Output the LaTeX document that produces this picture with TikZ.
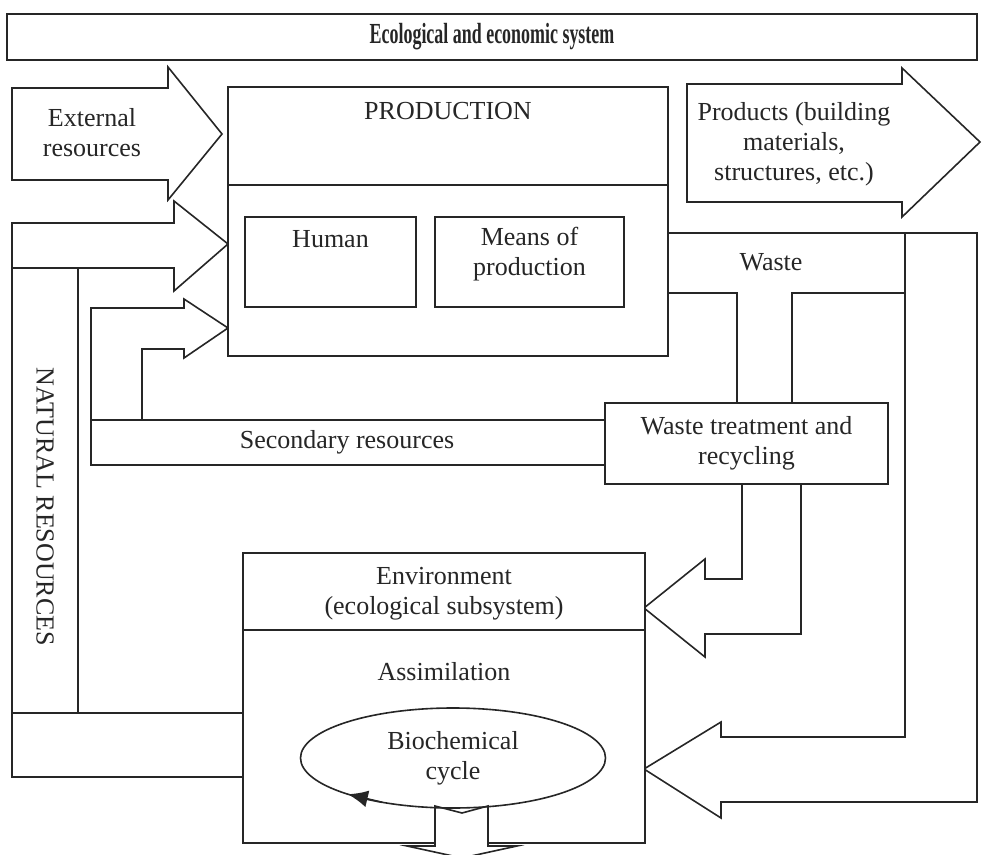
\documentclass[tikz,border=0pt]{standalone}
\usepackage{fontspec}
\setmainfont{Liberation Serif}
\usepackage{graphicx}
\usetikzlibrary{shapes.geometric,arrows.meta}
\begin{document}
\begin{tikzpicture}[x=0.5pt,y=-0.5pt,inner sep=0pt,outer sep=0pt,thick,color=black!85,
	font=\fontsize{13}{15}\selectfont,
	sysbox/.style={draw,rectangle,fill=white},
	bigarrow/.style={draw,fill=white}]
	\useasboundingbox (0,0) rectangle (985,855);
	\draw (492,37) node[sysbox,minimum width=485pt,minimum height=23pt] (eco) {\scalebox{0.69}[1.12]{\bfseries Ecological and economic system}};
	% arrows on the left
	\draw[bigarrow] (12,88) -- (168,88) -- (168,67) -- (222,134) -- (168,200) -- (168,180) -- (12,180) -- cycle;
	\draw (92,133) node[align=center] (ext) {External\\resources};
	\draw[bigarrow] (243,713) -- (78,713) -- (78,268) -- (174,268) -- (174,291) -- (228,244) -- (174,201) -- (174,223) -- (12,223) -- (12,777) -- (243,777);
	\draw (12,268) -- (78,268) (12,713) -- (78,713);
	\draw (45,507) node[rotate=-90] (nat) {NATURAL RESOURCES};
	\draw[bigarrow] (605,420) -- (142,420) -- (142,349) -- (184,349) -- (184,358) -- (228,328) -- (184,299) -- (184,308) -- (91,308) -- (91,465) -- (605,465);
	\draw (91,420) -- (142,420);
	\draw (347,442) node (sec) {Secondary resources};
	% production
	\draw (448,221.5) node[sysbox,minimum width=220pt,minimum height=134.5pt] (prod) {};
	\draw (228,185) -- (668,185);
	\draw (448,111) node (prodlbl) {PRODUCTION};
	\draw (330.5,262) node[sysbox,minimum width=85.5pt,minimum height=45pt] (human) {};
	\draw (330.5,239) node (humanlbl) {Human};
	\draw (529.5,262) node[sysbox,minimum width=94.5pt,minimum height=45pt] (means) {};
	\draw (529.5,254) node[align=center] (meanslbl) {Means of\\production};
	\draw[bigarrow] (687,84) -- (902,84) -- (902,68) -- (980,142) -- (902,217) -- (902,202) -- (687,202) -- cycle;
	\draw (794,144) node[align=center] (prodout) {Products (building\\materials,\\structures, etc.)};
	% waste
	\draw (668,293) -- (737,293) -- (737,403);
	\draw (792,403) -- (792,293) -- (905,293) -- (905,737) -- (721,737) -- (721,722) -- (644,769) -- (721,818) -- (721,802) -- (977,802) -- (977,233) -- (668,233);
	\draw (905,233) -- (905,293);
	\draw (771,262) node (waste) {Waste};
	\draw (746.5,443.5) node[sysbox,minimum width=141.5pt,minimum height=40.5pt,align=center] (treat) {Waste treatment and\\recycling};
	\draw (742,484) -- (742,579) -- (705,579) -- (705,559) -- (644,608) -- (705,657) -- (705,634) -- (801,634) -- (801,484);
	% environment
	\draw (444,698) node[sysbox,minimum width=201pt,minimum height=145pt] (env) {};
	\draw (243,630) -- (645,630);
	\draw (444,594) node[align=center] (envlbl) {Environment\\(ecological subsystem)};
	\draw (444,672) node (assim) {Assimilation};
	\draw[bigarrow] (435,806) -- (462,813) -- (488,806) -- (488,846) -- (517,846) -- (462,858) -- (407,846) -- (435,846) -- cycle;
	\draw (453,758) node[draw,ellipse,minimum width=152.5pt,minimum height=50pt] (bio) {};
	\draw (453,758) node[align=center] (biolbl) {Biochemical\\cycle};
	\draw[-{Latex[length=10pt,width=8.5pt]}] (bio.212) -- (bio.199);
\end{tikzpicture}
\end{document}
